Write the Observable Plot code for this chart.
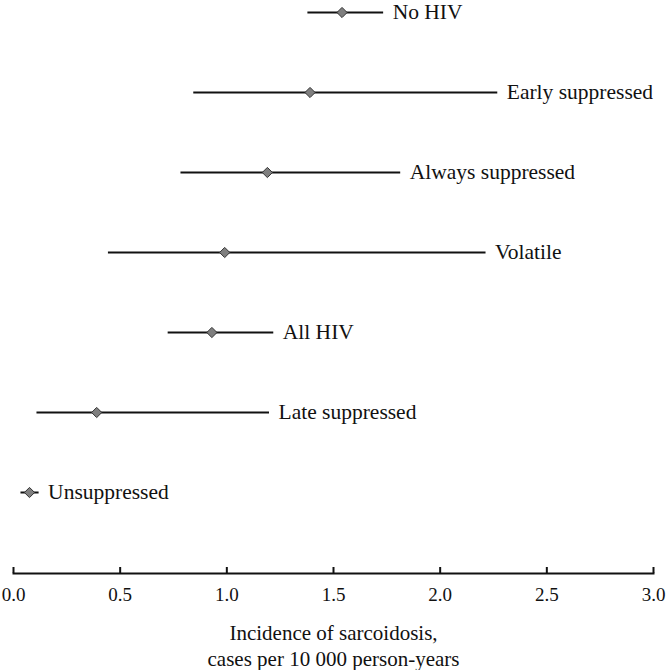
<!DOCTYPE html>
<html>
<head>
<meta charset="utf-8">
<script src="https://cdn.jsdelivr.net/npm/d3@7"></script>
<script src="https://cdn.jsdelivr.net/npm/@observablehq/plot@0.6"></script>
<style>
  html, body { margin: 0; padding: 0; background: #fff; }
  svg { display: block; }
</style>
</head>
<body>
<div id="chart"></div>
<script>
const groups = ["No HIV", "Early suppressed", "Always suppressed", "Volatile", "All HIV", "Late suppressed", "Unsuppressed"];
const estimate = [1.54, 1.39, 1.19, 0.99, 0.93, 0.39, 0.075];
const lower = [1.38, 0.845, 0.785, 0.445, 0.725, 0.11, 0.035];
const upper = [1.735, 2.27, 1.815, 2.215, 1.22, 1.20, 0.12];
const xTicks = [0, 0.5, 1.0, 1.5, 2.0, 2.5, 3.0];
const xTitle = "Incidence of sarcoidosis,\ncases per 10 000 person-years";

const data = groups.map((g, i) => ({name: g, est: estimate[i], lo: lower[i], hi: upper[i]}));

const ff = "Liberation Serif";

const chart = Plot.plot({
  width: 667,
  height: 670,
  marginTop: 0,
  marginLeft: 13,
  marginRight: 14,
  marginBottom: 97,
  style: {fontFamily: "Liberation Serif", fontSize: "18px", color: "#111", background: "#fff"},
  x: {domain: [0, 3], ticks: xTicks},
  y: {type: "point", domain: groups, range: [12, 492], padding: 0, axis: null},
  marks: [
    Plot.frame({anchor: "bottom", stroke: "#111", strokeWidth: 2}),
    Plot.axisX({ticks: xTicks, tickSize: -6, text: null, stroke: "#111", strokeWidth: 2, label: null}),
    Plot.axisX({ticks: xTicks, tickSize: 0, tickPadding: 14, tickFormat: d => d.toFixed(1), fontSize: 19, fontFamily: ff, label: null, fill: "#111"}),
    Plot.text([xTitle], {frameAnchor: "bottom", dy: 49, lineAnchor: "top", lineHeight: 1.2, fontSize: 21, fontFamily: ff, fill: "#111"}),
    Plot.ruleY(data, {y: "name", x1: "lo", x2: "hi", stroke: "#111", strokeWidth: 2}),
    Plot.dot(data, {x: "est", y: "name", symbol: "diamond2", r: 4.6, fill: "#7f7f7f", stroke: "#333", strokeWidth: 1}),
    Plot.text(data, {x: "hi", y: "name", text: "name", textAnchor: "start", dx: 9, fontSize: 21.5, fontFamily: ff, fill: "#111"})
  ]
});
document.getElementById("chart").appendChild(chart);
</script>
</body>
</html>
